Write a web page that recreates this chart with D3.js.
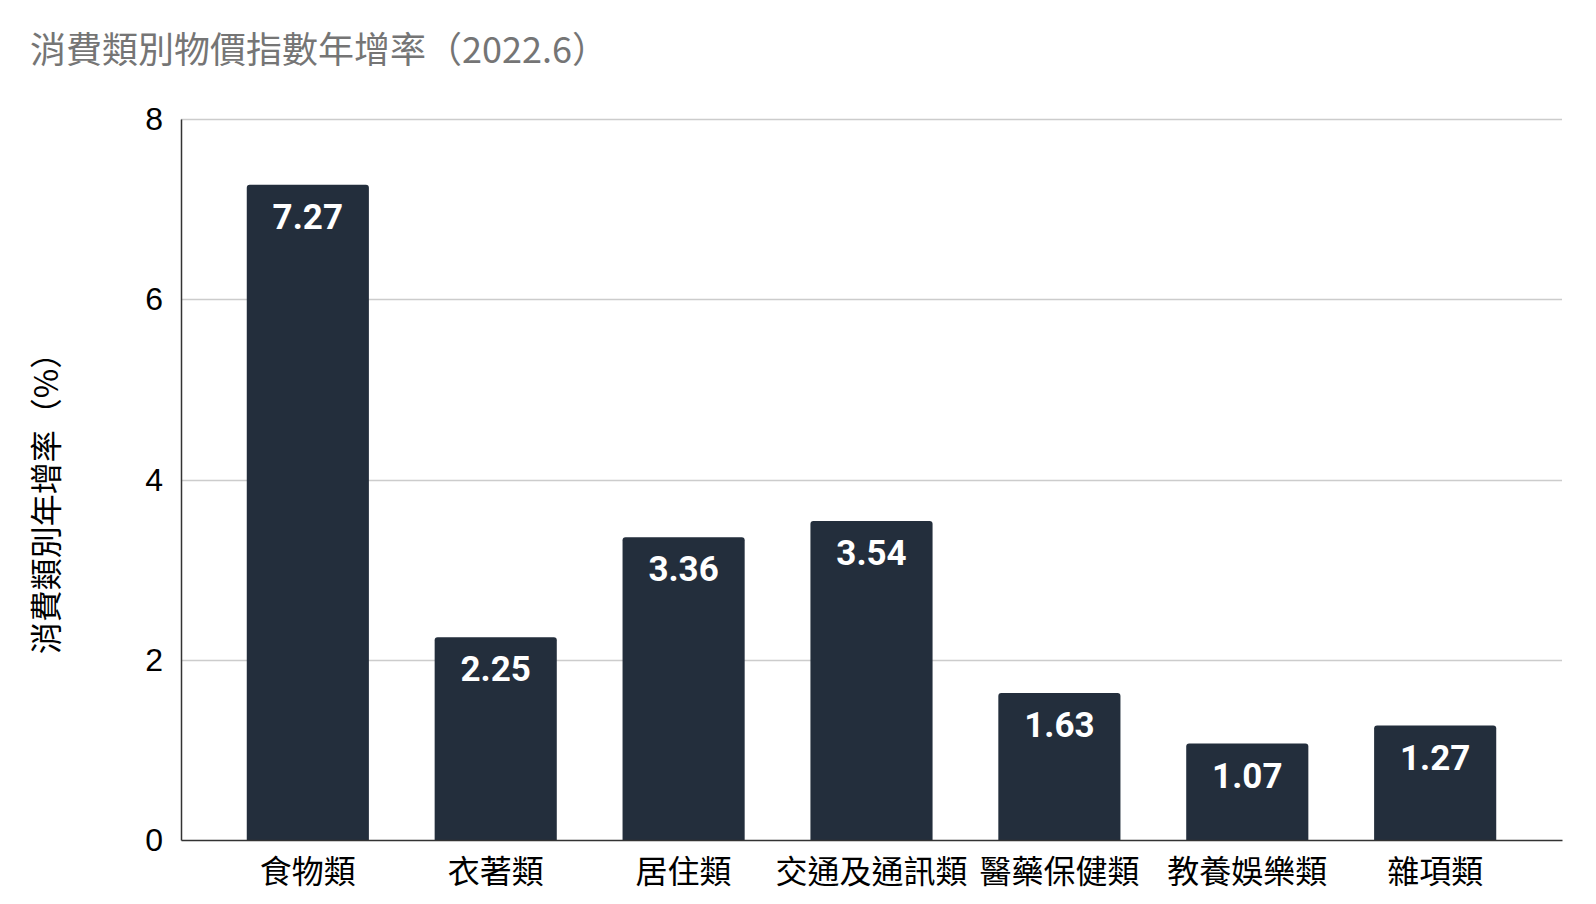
<!DOCTYPE html>
<html>
<head>
<meta charset="utf-8">
<script src="https://cdn.jsdelivr.net/npm/d3@7"></script>
<style>
  html, body { margin: 0; padding: 0; background: #fff; }
  svg { display: block; }
</style>
</head>
<body>
<svg id="chart" width="1596" height="904"></svg>
<script>
const categories = ["食物類", "衣著類", "居住類", "交通及通訊類", "醫藥保健類", "教養娛樂類", "雜項類"];
const values = [7.27, 2.25, 3.36, 3.54, 1.63, 1.07, 1.27];
const yTicks = [0, 2, 4, 6, 8];
const titleText = "消費類別物價指數年增率（2022.6）";
const yTitleText = "消費類別年增率（%）";

const W = 1596, H = 904;
const margin = { left: 181, right: 34, top: 119, bottom: 64 };
const plotW = W - margin.left - margin.right;
const plotH = H - margin.top - margin.bottom;

const svg = d3.select("#chart");
const cjk = "'Noto Sans CJK TC', 'Noto Sans CJK SC', sans-serif";

const x = d3.scaleBand().domain(categories).range([0, plotW]).paddingInner(0.35).paddingOuter(0.35);
const y = d3.scaleLinear().domain([0, 8]).range([plotH, 0]);

// title
svg.append("text")
  .attr("x", 30).attr("y", 63)
  .attr("font-family", cjk)
  .attr("font-size", 36)
  .attr("fill", "#757575")
  .text(titleText);

// y title
svg.append("text")
  .attr("transform", `translate(58,${margin.top + plotH / 2 + 16}) rotate(-90)`)
  .attr("text-anchor", "middle")
  .attr("font-family", cjk)
  .attr("font-size", 32)
  .attr("fill", "#000")
  .text(yTitleText);

const g = svg.append("g").attr("transform", `translate(${margin.left},${margin.top})`);

// gridlines
g.append("g")
  .selectAll("line")
  .data(yTicks.filter(d => d !== 0))
  .join("line")
  .attr("x1", 0).attr("x2", plotW)
  .attr("y1", d => Math.round(y(d)) + 0.5).attr("y2", d => Math.round(y(d)) + 0.5)
  .attr("stroke", "#cccccc").attr("stroke-width", 1.5);

// y axis
const yAxis = g.append("g").call(d3.axisLeft(y).tickValues(yTicks).tickSize(0).tickPadding(18).tickFormat(d3.format("d")));
yAxis.select(".domain").attr("stroke", "#333").attr("stroke-width", 1.5);
yAxis.selectAll("text")
  .attr("font-family", "'Liberation Sans', Arial, sans-serif")
  .attr("font-size", 32)
  .attr("fill", "#000")
  .attr("dy", "0.33em");

// bars with rounded top corners
const r = 3;
function barPath(d, i) {
  const x0 = x(categories[i]), w = x.bandwidth();
  const y0 = y(d), yb = y(0);
  return `M${x0},${yb} L${x0},${y0 + r} Q${x0},${y0} ${x0 + r},${y0} L${x0 + w - r},${y0} Q${x0 + w},${y0} ${x0 + w},${y0 + r} L${x0 + w},${yb} Z`;
}
g.append("g")
  .selectAll("path")
  .data(values)
  .join("path")
  .attr("d", (d, i) => barPath(d, i))
  .attr("fill", "#232e3c");

// value labels
g.append("g")
  .selectAll("text")
  .data(values)
  .join("text")
  .attr("x", (d, i) => x(categories[i]) + x.bandwidth() / 2)
  .attr("y", d => y(d) + 44)
  .attr("text-anchor", "middle")
  .attr("font-family", "Roboto, sans-serif")
  .attr("font-weight", 700)
  .attr("font-size", 35)
  .attr("fill", "#fff")
  .text(d => d3.format(".2f")(d));

// x axis
const xAxis = g.append("g").attr("transform", `translate(0,${plotH})`)
  .call(d3.axisBottom(x).tickSize(0).tickPadding(0));
xAxis.select(".domain").attr("stroke", "#333").attr("stroke-width", 1.5);
xAxis.selectAll("text")
  .attr("font-family", cjk)
  .attr("font-size", 32)
  .attr("fill", "#000")
  .attr("y", 43)
  .attr("dy", 0);
</script>
</body>
</html>
